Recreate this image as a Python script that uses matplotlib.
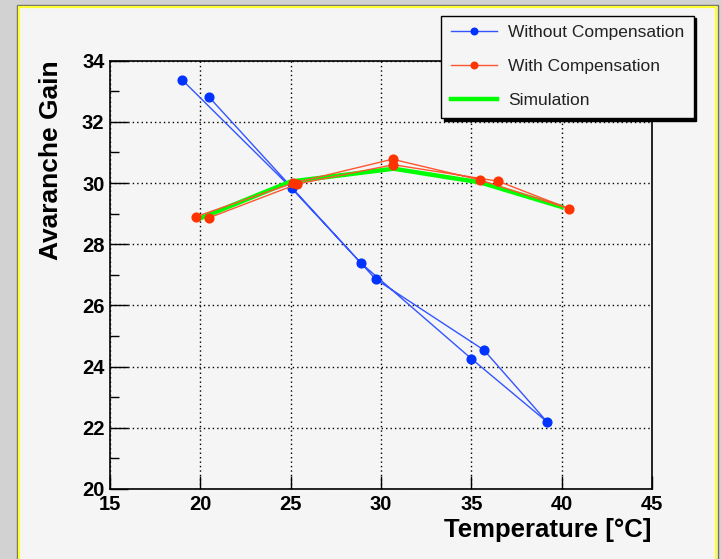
import numpy as np
import matplotlib
matplotlib.use('Agg')
import matplotlib.pyplot as plt
from matplotlib.patches import Rectangle

plt.rcParams['font.family'] = ['Liberation Sans', 'DejaVu Sans']

# ---- data ----
# without compensation (measured in sequence: warming up, then cooling down)
t_wo = [19.0, 25.05, 28.9, 35.0, 39.2, 35.7, 29.7, 20.5]
g_wo = [33.37, 29.83, 27.38, 24.26, 22.19, 24.54, 26.86, 32.80]

# with compensation
t_w = [19.74, 25.15, 30.64, 35.49, 40.42, 36.49, 30.68, 25.37, 20.46]
g_w = [28.90, 30.00, 30.78, 30.10, 29.16, 30.06, 30.60, 29.97, 28.86]

# simulation
t_sim = [20.0, 25.0, 30.7, 35.5, 40.0]
g_sim = [28.85, 30.05, 30.47, 30.02, 29.22]

xticks = [15, 20, 25, 30, 35, 40, 45]
yticks = [20, 22, 24, 26, 28, 30, 32, 34]

W, H = 721, 559
fig = plt.figure(figsize=(W / 100, H / 100), dpi=100, facecolor='#d2d2d2')

# pale canvas with the yellow ROOT-style frame
fig.patches.append(Rectangle((16.5 / W, -0.02), (717.5 - 16.5) / W, 1.02 - 5 / H,
                             transform=fig.transFigure, facecolor='#f5f5f5',
                             edgecolor='#6e6e6e', lw=1.0, zorder=-2))
fig.patches.append(Rectangle((18.5 / W, -0.02), (715.5 - 18.5) / W, 1.02 - 7 / H,
                             transform=fig.transFigure, facecolor='none',
                             edgecolor='#ffff30', lw=1.6, zorder=-1))

ax = fig.add_axes([110 / W, 1 - 489 / H, (652 - 110) / W, (489 - 60.7) / H])
ax.set_facecolor('#f5f5f5')

ax.plot(t_wo, g_wo, color='#3355ff', lw=1.0, marker='o', ms=6.3,
        mfc='#0033ff', mec='#0033ff', label='Without Compensation', zorder=3)
ax.plot(t_w, g_w, color='#ff5530', lw=1.0, marker='o', ms=6.3,
        mfc='#ff3300', mec='#ff3300', label='With Compensation', zorder=4)
ax.plot(t_sim, g_sim, color='#00ff00', lw=3.2, label='Simulation', zorder=3.5)

ax.set_xlim(15, 45)
ax.set_ylim(20, 34)
ax.set_xticks(xticks)
ax.set_yticks(yticks)
ax.set_yticks(np.arange(21, 34, 2), minor=True)

ax.grid(True, which='major', color='black', lw=1.0, linestyle=(0, (1, 2.2)))
ax.tick_params(axis='both', which='both', direction='in', width=1.0,
               labelsize=14.5, top=False, right=False)
ax.tick_params(axis='y', which='major', length=13, pad=4)
ax.tick_params(axis='y', which='minor', length=6.5)
ax.tick_params(axis='x', which='major', length=9.5, pad=4)
for lbl in ax.get_xticklabels() + ax.get_yticklabels():
    lbl.set_fontweight('bold')
for sp in ax.spines.values():
    sp.set_linewidth(1.2)

fig.text(652 / W, 1 - 530 / H, 'Temperature [°C]', ha='right', va='center',
         fontsize=18.5, fontweight='bold')
fig.text(51 / W, 1 - 60.7 / H, 'Avaranche Gain', ha='center', va='top',
         rotation=90, fontsize=19, fontweight='bold')

leg = ax.legend(loc='upper left', bbox_to_anchor=(441 / W, 1 - 15.7 / H),
                bbox_transform=fig.transFigure, borderaxespad=0,
                fontsize=12.5, markerscale=0.75, handlelength=2.7,
                handletextpad=0.6, labelspacing=1.08, borderpad=0.55,
                fancybox=False, facecolor='#f5f5f5', framealpha=1,
                edgecolor='black',
                shadow={'facecolor': 'black', 'edgecolor': 'black', 'alpha': 1})
leg.get_frame().set_linewidth(1.0)
for txt in leg.get_texts():
    txt.set_color('#222222')

fig.savefig('out.png', dpi=100, facecolor=fig.get_facecolor())
